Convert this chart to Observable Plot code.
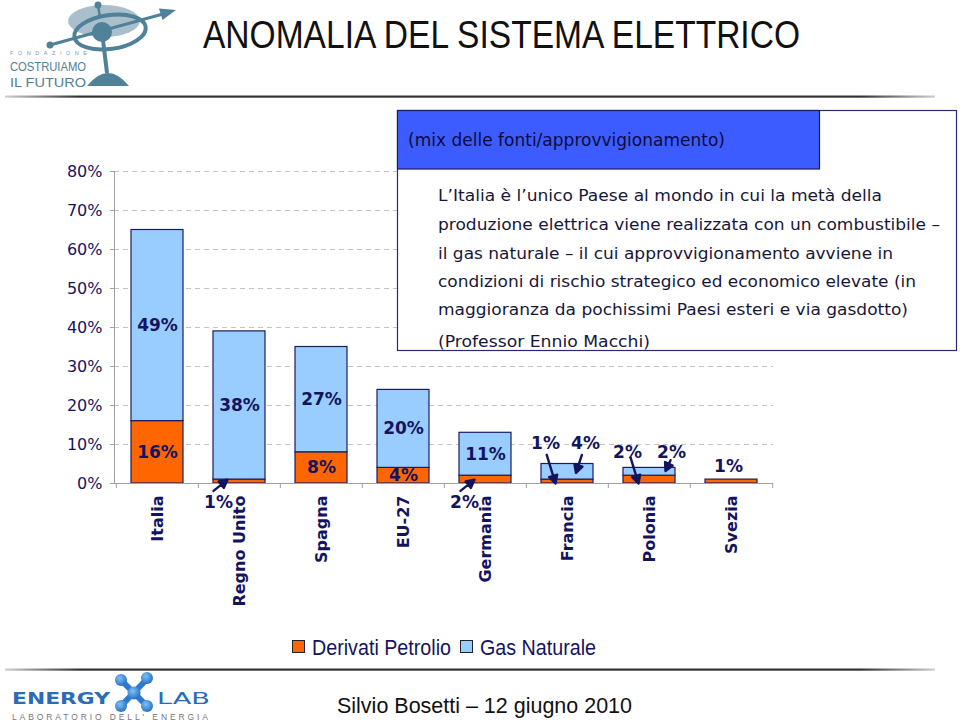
<!DOCTYPE html>
<html>
<head>
<meta charset="utf-8">
<script src="https://cdn.jsdelivr.net/npm/d3@7"></script>
<script src="https://cdn.jsdelivr.net/npm/@observablehq/plot@0.6"></script>
<style>
  html, body { margin: 0; padding: 0; background: #fff; }
  #wrap { position: relative; width: 960px; height: 722px; overflow: hidden; background: #fff; }
  #chart { position: absolute; left: 0; top: 150px; }
  #deco { position: absolute; left: 0; top: 0; }
</style>
</head>
<body>
<div id="wrap">
  <div id="chart"></div>
  <svg id="deco" width="960" height="722" xmlns="http://www.w3.org/2000/svg">
    <defs>
      <linearGradient id="rule" x1="0" x2="1" y1="0" y2="0">
        <stop offset="0" stop-color="#d0d0d0"/>
        <stop offset="0.08" stop-color="#333"/>
        <stop offset="0.92" stop-color="#333"/>
        <stop offset="1" stop-color="#d0d0d0"/>
      </linearGradient>
      <radialGradient id="ball" cx="0.4" cy="0.35" r="0.7">
        <stop offset="0" stop-color="#7fc0f5"/>
        <stop offset="1" stop-color="#1f6cc0"/>
      </radialGradient>
    </defs>

    <!-- top-left logo -->
    <g>
      <ellipse cx="104" cy="21" rx="36" ry="16" fill="#a9c0cc"/>
      <ellipse cx="110" cy="32" rx="36" ry="17" fill="none" stroke="#4f8199" stroke-width="4" transform="rotate(-8 110 32)"/>
      <line x1="50" y1="45" x2="163" y2="14" stroke="#4f8199" stroke-width="3"/>
      <polygon points="176,10 159,8.5 162.5,20" fill="#4f8199"/>
      <circle cx="50" cy="45" r="3.5" fill="#4f8199"/>
      <line x1="98" y1="5" x2="100" y2="18" stroke="#4f8199" stroke-width="2.5"/>
      <circle cx="98" cy="5" r="3.5" fill="#4f8199"/>
      <circle cx="102" cy="32" r="10" fill="#4f8199"/>
      <line x1="103" y1="40" x2="107" y2="73" stroke="#4f8199" stroke-width="4"/>
      <path d="M87,86 Q108,60 129,86 Z" fill="#4f8199"/>
      <text x="10" y="55" font-family="Liberation Sans, Arial, sans-serif" font-size="5.5" textLength="77" lengthAdjust="spacing" fill="#7a9aaa">FONDAZIONE</text>
      <text x="10" y="71" font-family="Liberation Sans, Arial, sans-serif" font-size="13" textLength="76" lengthAdjust="spacingAndGlyphs" fill="#4f8199">COSTRUIAMO</text>
      <text x="10" y="86.5" font-family="Liberation Sans, Arial, sans-serif" font-size="13" textLength="76" lengthAdjust="spacingAndGlyphs" fill="#4f8199">IL FUTURO</text>
    </g>

    <!-- title -->
    <text x="203" y="48" font-family="Liberation Sans, Arial, sans-serif" font-size="38" textLength="597" lengthAdjust="spacingAndGlyphs" fill="#111">ANOMALIA DEL SISTEMA ELETTRICO</text>
    <rect x="5" y="95.5" width="930" height="2.2" fill="url(#rule)"/>

    <!-- text box -->
    <rect x="397.5" y="110.5" width="559" height="240" fill="#fff" stroke="#2b2b66" stroke-width="1.2"/>
    <rect x="397.5" y="110.5" width="422" height="58.5" fill="#3d5cff" stroke="#1c1c5c" stroke-width="1.2"/>
    <g font-family="DejaVu Sans, Verdana, sans-serif" fill="#16163a">
      <text x="408" y="146" font-size="17" textLength="317" lengthAdjust="spacingAndGlyphs" fill="#0c0c3a">(mix delle fonti/approvvigionamento)</text>
      <text x="438" y="201" font-size="16.5" textLength="444" lengthAdjust="spacingAndGlyphs">L’Italia è l’unico Paese al mondo in cui la metà della</text>
      <text x="438" y="230" font-size="16.5" textLength="502" lengthAdjust="spacingAndGlyphs">produzione elettrica viene realizzata con un combustibile –</text>
      <text x="438" y="259" font-size="16.5" textLength="455" lengthAdjust="spacingAndGlyphs">il gas naturale – il cui approvvigionamento avviene in</text>
      <text x="438" y="287" font-size="16.5" textLength="478" lengthAdjust="spacingAndGlyphs">condizioni di rischio strategico ed economico elevate (in</text>
      <text x="438" y="315" font-size="16.5" textLength="470" lengthAdjust="spacingAndGlyphs">maggioranza da pochissimi Paesi esteri e via gasdotto)</text>
      <text x="438" y="347" font-size="16.5" textLength="212" lengthAdjust="spacingAndGlyphs">(Professor Ennio Macchi)</text>
    </g>

    <!-- legend (filled by script) -->
    <g id="legend"></g>

    <!-- footer -->
    <rect x="5" y="668.5" width="930" height="2.2" fill="url(#rule)"/>
    <g>
      <text x="12" y="704" font-family="DejaVu Sans, Verdana, sans-serif" font-weight="bold" font-size="15" textLength="98" lengthAdjust="spacingAndGlyphs" fill="#2a6cb5">ENERGY</text>
      <g stroke="#2a7ad0" stroke-width="6" stroke-linecap="round">
        <line x1="121" y1="680" x2="147" y2="706"/>
        <line x1="147" y1="679" x2="121" y2="706"/>
      </g>
      <circle cx="121" cy="680" r="6" fill="url(#ball)"/>
      <circle cx="147" cy="678" r="6" fill="url(#ball)"/>
      <circle cx="121" cy="706" r="6" fill="url(#ball)"/>
      <circle cx="147" cy="706" r="6" fill="url(#ball)"/>
      <circle cx="134" cy="693" r="6.5" fill="url(#ball)"/>
      <text x="157" y="704" font-family="DejaVu Sans, Verdana, sans-serif" font-size="15" textLength="53" lengthAdjust="spacingAndGlyphs" fill="#2a6cb5">LAB</text>
      <text x="12" y="720" font-family="Liberation Sans, Arial, sans-serif" font-size="8.5" textLength="196" lengthAdjust="spacing" fill="#777">LABORATORIO DELL' ENERGIA</text>
    </g>
    <text x="337" y="713" font-family="Liberation Sans, Arial, sans-serif" font-size="21.5" textLength="295" lengthAdjust="spacingAndGlyphs" fill="#111">Silvio Bosetti – 12 giugno 2010</text>
  </svg>
</div>

<script>
// ---------- data ----------
const countries = ["Italia", "Regno Unito", "Spagna", "EU-27", "Germania", "Francia", "Polonia", "Svezia"];
const seriesNames = ["Derivati Petrolio", "Gas Naturale"];
const petrolio = [16, 1, 8, 4, 2, 1, 2, 1];
const gas = [49, 38, 27, 20, 11, 4, 2, 0];
const yTicks = [0, 10, 20, 30, 40, 50, 60, 70, 80];
const seriesColors = ["#ff6600", "#99ccff"];

// ---------- labels placed outside the bars (with arrows) ----------
const noteCountry = ["Regno Unito", "Germania", "Francia", "Francia", "Polonia", "Polonia", "Svezia"];
const noteSeries = ["Derivati Petrolio", "Derivati Petrolio", "Derivati Petrolio", "Gas Naturale", "Derivati Petrolio", "Gas Naturale", "Derivati Petrolio"];
const noteLabelDx = [-21, -21, -22, 18, -22, 22, -3];
const noteLabelY = [-4.8, -5.0, 10.2, 10.2, 8.0, 8.0, 4.4];
const noteTipDx = [-12, -11, -12, 8.5, -11, 16, null];
const noteTipY = [1.0, 1.0, 0.0, 2.7, 0.0, 3.2, null];
const noteLen = [18, 18, 30, 19, 27, 12, null];
const noteAngle = [51, 51, 163, -162, 163, -155, null];

// ---------- build table ----------
const valueOf = (c, s) => {
  const i = countries.indexOf(c);
  return s === seriesNames[0] ? petrolio[i] : gas[i];
};
const isNote = (c, s) => noteCountry.some((nc, k) => nc === c && noteSeries[k] === s);
const rows = countries.flatMap((c, i) => [
  {country: c, series: seriesNames[0], value: petrolio[i]},
  {country: c, series: seriesNames[1], value: gas[i]}
]).map(d => ({...d, inside: !isNote(d.country, d.series)}));

const notes = noteCountry.map((c, k) => ({
  country: c,
  series: noteSeries[k],
  value: valueOf(c, noteSeries[k]),
  labelY: noteLabelY[k],
  tipY: noteTipY[k]
}));

const navy = "#14145e";
const W = 960, H = 470;
const mL = 114, mR = 187, mT = 21, mB = 137;
const padIn = 0.37, padOut = 0.185;
const step = (W - mL - mR) / (countries.length - padIn + 2 * padOut);

const arrowShape = {
  draw(context, l) {
    const h = 8, w = 4.2;
    context.moveTo(0, 0);
    context.lineTo(0, -(l - h));
    context.moveTo(-w, -(l - h));
    context.lineTo(0, -l);
    context.lineTo(w, -(l - h));
    context.closePath();
  }
};

const noteMarks = notes.flatMap((n, k) => {
  const marks = [
    Plot.text([n], {
      x: "country", y: "labelY", dx: noteLabelDx[k],
      text: d => `${d.value}%`,
      fill: navy, fontWeight: "bold", fontSize: 17,
      textAnchor: "middle", lineAnchor: "middle"
    })
  ];
  if (noteLen[k] != null) {
    marks.push(Plot.vector([n], {
      x: "country", y: "tipY", dx: noteTipDx[k],
      length: noteLen[k], rotate: noteAngle[k], anchor: "end",
      shape: arrowShape, stroke: navy, fill: navy, strokeWidth: 2.4
    }));
  }
  return marks;
});

const chart = Plot.plot({
  width: W,
  height: H,
  marginLeft: mL,
  marginRight: mR,
  marginTop: mT,
  marginBottom: mB,
  style: {fontFamily: "DejaVu Sans, Verdana, sans-serif", fontSize: "16px", color: navy, background: "transparent"},
  x: {domain: countries, paddingInner: padIn, paddingOuter: padOut, axis: null},
  y: {domain: [0, 80], axis: null},
  color: {domain: seriesNames, range: seriesColors},
  marks: [
    Plot.gridY(yTicks.filter(v => v > 0), {stroke: "#c4c4c4", strokeOpacity: 1, strokeDasharray: "5,4"}),
    Plot.barY(rows, {x: "country", y: "value", fill: "series", stroke: "#1c1c5e", strokeWidth: 1.2, filter: d => d.value > 0}),
    Plot.frame({anchor: "left", stroke: "#a0a0a0"}),
    Plot.ruleY([0], {stroke: "#a0a0a0"}),
    Plot.ruleX(countries, {x: d => d, y1: 0, y2: -1.3, dx: -step / 2, stroke: "#a0a0a0"}),
    Plot.ruleX([countries[countries.length - 1]], {x: d => d, y1: 0, y2: -1.3, dx: step / 2, stroke: "#a0a0a0"}),
    Plot.axisY(yTicks, {
      tickFormat: d => `${d}%`, tickSize: 4, tickPadding: 8,
      stroke: "#a0a0a0", fill: navy, fontSize: 16, label: null
    }),
    Plot.axisX(countries, {
      tickRotate: -90, tickSize: 0, tickPadding: 12,
      fill: navy, fontWeight: "bold", fontSize: 16, label: null
    }),
    Plot.text(rows, Plot.stackY({
      x: "country", y: "value",
      text: d => (d.inside && d.value > 0 ? `${d.value}%` : ""),
      fill: navy, fontWeight: "bold", fontSize: 17
    })),
    ...noteMarks
  ]
});
document.getElementById("chart").appendChild(chart);

// ---------- legend ----------
const legend = d3.select("#legend");
const legendX = [292, 460];
const legendTextLen = [139, 116];
seriesNames.forEach((name, i) => {
  legend.append("rect")
    .attr("x", legendX[i] + 0.5).attr("y", 640.5)
    .attr("width", 12).attr("height", 12)
    .attr("fill", seriesColors[i]).attr("stroke", "#222").attr("stroke-width", 1);
  legend.append("text")
    .attr("x", legendX[i] + 20).attr("y", 655)
    .attr("font-family", "Liberation Sans, Arial, sans-serif")
    .attr("font-size", 21.5)
    .attr("textLength", legendTextLen[i])
    .attr("lengthAdjust", "spacingAndGlyphs")
    .attr("fill", navy)
    .text(name);
});
</script>
</body>
</html>
